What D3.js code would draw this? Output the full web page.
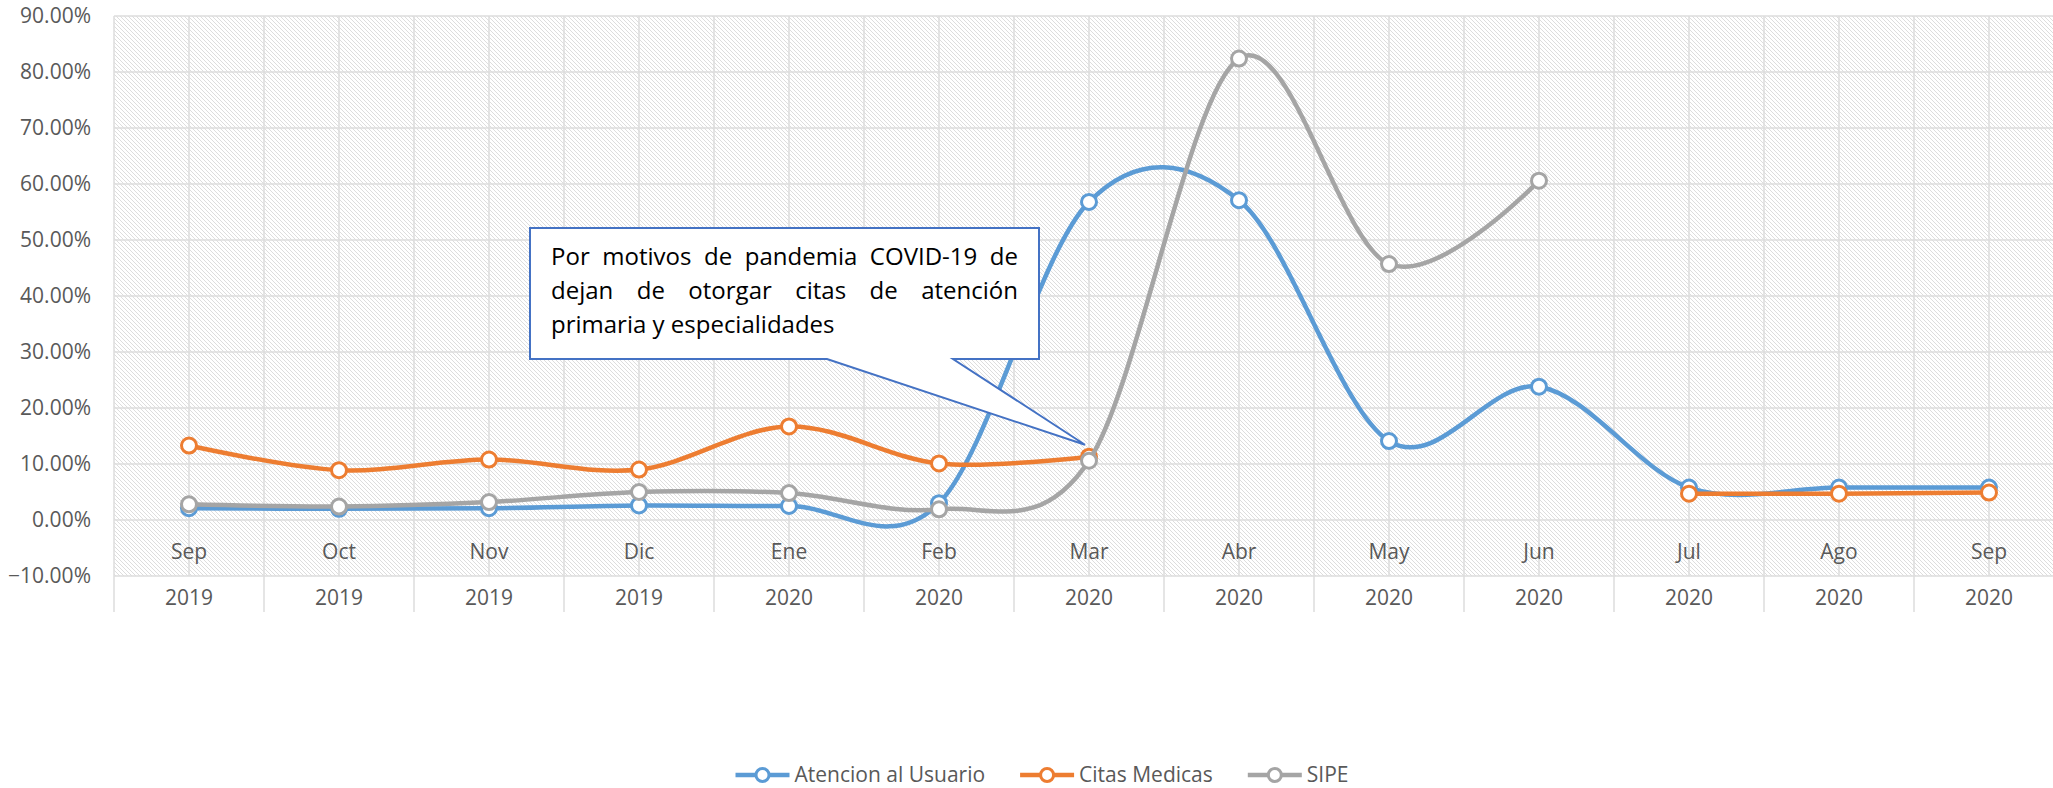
<!DOCTYPE html>
<html>
<head>
<meta charset="utf-8">
<script src="https://cdn.jsdelivr.net/npm/d3@7"></script>
<style>
  body { margin: 0; background: #fff; }
  text { font-family: "Open Sans", sans-serif; }
</style>
</head>
<body>
<div id="chart"></div>
<script>
// data
var months = ["Sep", "Oct", "Nov", "Dic", "Ene", "Feb", "Mar", "Abr", "May", "Jun", "Jul", "Ago", "Sep"];
var years = ["2019", "2019", "2019", "2019", "2020", "2020", "2020", "2020", "2020", "2020", "2020", "2020", "2020"];
var atencion = [0.021, 0.020, 0.021, 0.026, 0.025, 0.030, 0.568, 0.571, 0.141, 0.238, 0.058, 0.058, 0.058];
var citas = [0.133, 0.089, 0.108, 0.090, 0.167, 0.101, 0.113, null, null, null, 0.047, 0.047, 0.049];
var sipe = [0.028, 0.024, 0.032, 0.050, 0.048, 0.019, 0.106, 0.824, 0.457, 0.606, null, null, null];
var yTicks = [-0.1, 0, 0.1, 0.2, 0.3, 0.4, 0.5, 0.6, 0.7, 0.8, 0.9];
var seriesNames = ["Atencion al Usuario", "Citas Medicas", "SIPE"];
var colors = ["#5B9BD5", "#ED7D31", "#A5A5A5"];
var note = ["Por motivos de pandemia COVID-19 de", "dejan de otorgar citas de atención", "primaria y especialidades"];

var W = 2053, H = 788;
var plotLeft = 114, plotTop = 16, plotBottom = 576;

var svg = d3.select("#chart")
    .append("svg")
    .attr("width", W)
    .attr("height", H);

var idx = d3.range(months.length);

var x = d3.scaleBand()
    .domain(idx)
    .range([plotLeft, plotLeft + 150 * months.length])
    .padding(0);

var y = d3.scaleLinear()
    .domain([-0.1, 0.9])
    .range([plotBottom, plotTop]);

var cx = function(i) { return x(i) + x.bandwidth() / 2; };

// hatch pattern of the plot area
var defs = svg.append("defs");
defs.append("pattern")
    .attr("id", "hatch")
    .attr("width", 4)
    .attr("height", 4)
    .attr("patternUnits", "userSpaceOnUse")
    .append("path")
    .attr("d", "M-1,-1L5,5M-1,3L1,5M3,-1L5,1")
    .attr("stroke", "#dddddd")
    .attr("stroke-width", 1);

var x0 = x.range()[0], x1 = x.range()[1];

svg.append("rect")
    .attr("x", x0)
    .attr("y", plotTop)
    .attr("width", x1 - x0)
    .attr("height", plotBottom - plotTop)
    .attr("fill", "url(#hatch)");

// grid
var grid = svg.append("g").attr("stroke", "#dcdcdc").attr("stroke-width", 1.5);
grid.selectAll("line.h")
    .data(yTicks)
    .enter()
    .append("line")
    .attr("x1", x0).attr("x2", x1)
    .attr("y1", function(d) { return y(d); })
    .attr("y2", function(d) { return y(d); });

var vLines = d3.range(months.length * 2 + 1).map(function(k) { return x0 + k * x.bandwidth() / 2; });
grid.selectAll("line.v")
    .data(vLines)
    .enter()
    .append("line")
    .attr("x1", function(d) { return d; })
    .attr("x2", function(d) { return d; })
    .attr("y1", plotTop)
    .attr("y2", plotBottom);

// year row dividers
grid.selectAll("line.yr")
    .data(d3.range(months.length + 1))
    .enter()
    .append("line")
    .attr("x1", function(i) { return x0 + i * x.bandwidth(); })
    .attr("x2", function(i) { return x0 + i * x.bandwidth(); })
    .attr("y1", plotBottom)
    .attr("y2", plotBottom + 36);

// y axis labels
svg.append("g")
    .selectAll("text")
    .data(yTicks)
    .enter()
    .append("text")
    .attr("x", 91)
    .attr("y", function(d) { return y(d); })
    .attr("dy", "0.35em")
    .attr("text-anchor", "end")
    .attr("font-size", 21)
    .attr("fill", "#595959")
    .text(d3.format(".2%"));

// category labels
var cat = svg.append("g").attr("font-size", 21).attr("fill", "#595959").attr("text-anchor", "middle");
cat.selectAll("text.m")
    .data(idx)
    .enter()
    .append("text")
    .attr("x", cx)
    .attr("y", 552)
    .attr("dy", "0.35em")
    .text(function(i) { return months[i]; });
cat.selectAll("text.yr")
    .data(idx)
    .enter()
    .append("text")
    .attr("x", cx)
    .attr("y", 598)
    .attr("dy", "0.35em")
    .text(function(i) { return years[i]; });

// lines
var line = d3.line()
    .defined(function(d) { return d.v !== null; })
    .x(function(d) { return cx(d.i); })
    .y(function(d) { return y(d.v); })
    .curve(d3.curveCardinal.tension(0));

[atencion, citas, sipe].forEach(function(vals, s) {
    var pts = vals.map(function(v, i) { return {i: i, v: v}; });
    var g = svg.append("g");
    g.append("path")
        .datum(pts)
        .attr("d", line)
        .attr("fill", "none")
        .attr("stroke", colors[s])
        .attr("stroke-width", 4.5);
    g.selectAll("circle")
        .data(pts.filter(function(d) { return d.v !== null; }))
        .enter()
        .append("circle")
        .attr("cx", function(d) { return cx(d.i); })
        .attr("cy", function(d) { return y(d.v); })
        .attr("r", 7.5)
        .attr("fill", "#fff")
        .attr("stroke", colors[s])
        .attr("stroke-width", 3);
});

// callout
var bx0 = 530, by0 = 228, bx1 = 1039, by1 = 359;
var tipX = cx(6) - 4, tipY = y(citas[6]) - 12;
svg.append("path")
    .attr("d", "M" + bx0 + "," + by0 + "L" + bx1 + "," + by0 + "L" + bx1 + "," + by1 +
        "L953," + by1 + "L" + tipX + "," + tipY + "L827," + by1 + "L" + bx0 + "," + by1 + "Z")
    .attr("fill", "#fff")
    .attr("stroke", "#4472C4")
    .attr("stroke-width", 2);

var tx0 = 551, tx1 = 1018;
note.forEach(function(s, k) {
    var t = svg.append("text")
        .attr("x", tx0)
        .attr("y", 265 + k * 34)
        .attr("font-size", 24)
        .attr("fill", "#000")
        .text(s);
    if (k < note.length - 1) {
        var w = t.node().getComputedTextLength();
        var gaps = s.split(" ").length - 1;
        t.attr("word-spacing", (tx1 - tx0 - w) / gaps);
    }
});

// legend
var leg = svg.append("g");
var pos = 0;
seriesNames.forEach(function(n, s) {
    var g = leg.append("g");
    g.append("line")
        .attr("x1", pos).attr("x2", pos + 54)
        .attr("y1", 775).attr("y2", 775)
        .attr("stroke", colors[s])
        .attr("stroke-width", 4.5);
    g.append("circle")
        .attr("cx", pos + 27).attr("cy", 775)
        .attr("r", 6.5)
        .attr("fill", "#fff")
        .attr("stroke", colors[s])
        .attr("stroke-width", 3);
    var t = g.append("text")
        .attr("x", pos + 59)
        .attr("y", 775)
        .attr("dy", "0.35em")
        .attr("font-size", 21)
        .attr("fill", "#595959")
        .text(n);
    pos += 59 + t.node().getComputedTextLength() + 35;
});
pos -= 35;
leg.attr("transform", "translate(" + (1042 - pos / 2) + ",0)");
</script>
</body>
</html>
